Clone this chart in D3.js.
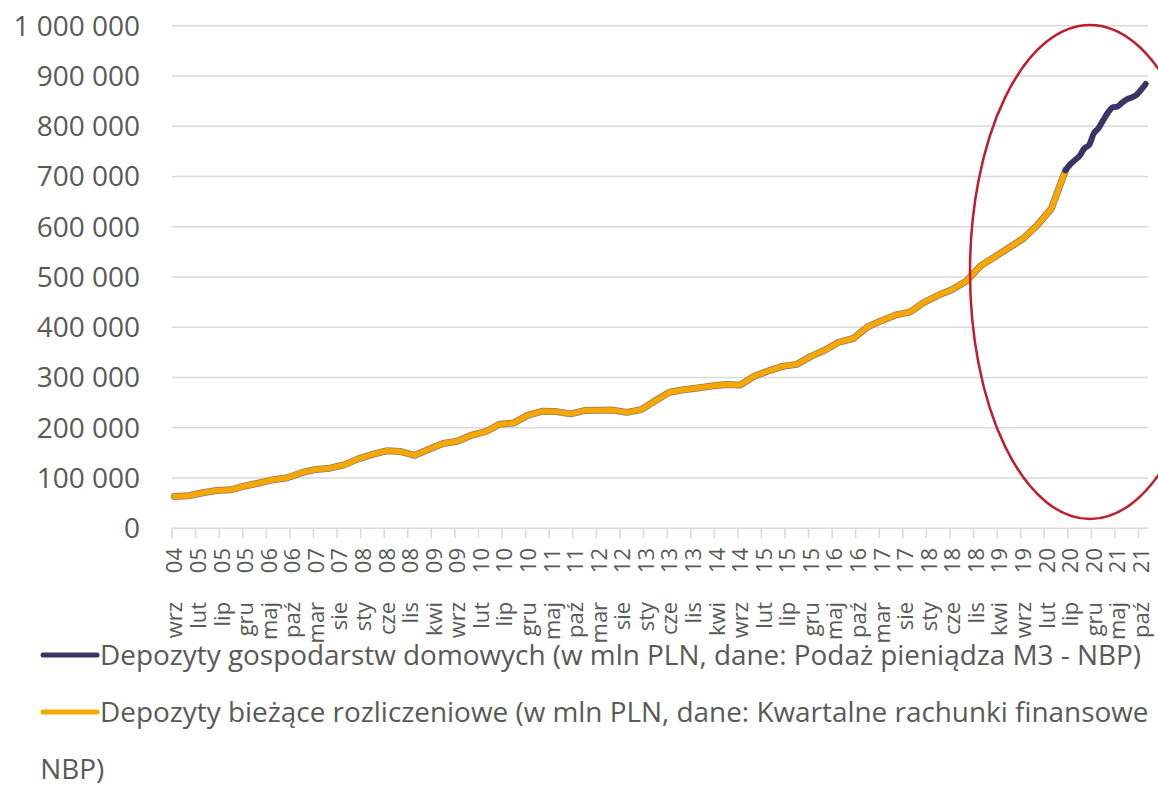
<!DOCTYPE html>
<html>
<head>
<meta charset="utf-8">
<script src="https://cdn.jsdelivr.net/npm/d3@7"></script>
<style>
  body { margin: 0; background: #fff; }
  text { font-family: "Open Sans", sans-serif; fill: #595959; }
</style>
</head>
<body>
<div id="chart"></div>
<script>
// Polish month abbreviations, categories run monthly from wrz 04 to lis 21
var monthNames = ["sty", "lut", "mar", "kwi", "maj", "cze", "lip", "sie", "wrz", "paź", "lis", "gru"];
var startYear = 2004, startMonth = 8, monthCount = 207;

var tickLabels = ["wrz 04", "lut 05", "lip 05", "gru 05", "maj 06", "paź 06", "mar 07", "sie 07",
  "sty 08", "cze 08", "lis 08", "kwi 09", "wrz 09", "lut 10", "lip 10", "gru 10", "maj 11", "paź 11",
  "mar 12", "sie 12", "sty 13", "cze 13", "lis 13", "kwi 14", "wrz 14", "lut 15", "lip 15", "gru 15",
  "maj 16", "paź 16", "mar 17", "sie 17", "sty 18", "cze 18", "lis 18", "kwi 19", "wrz 19", "lut 20",
  "lip 20", "gru 20", "maj 21", "paź 21"];

// quarterly current deposits, wrz 04 .. cze 20 (mln PLN)
var currentStart = "wrz 04";
var currentValues = [63000, 64500, 70500, 75000, 76500, 84000, 90000, 96500,
  100500, 110500, 117000, 119500, 126000, 138000, 147000, 154000,
  152500, 145000, 157000, 168500, 173000, 185000, 192000, 207000,
  209500, 225000, 232500, 232000, 227500, 234000, 234500, 235000,
  230500, 236000, 253500, 270500, 275500, 279000, 283000, 286000,
  285000, 302500, 313000, 322000, 326000, 342000, 354500, 370500,
  377500, 400500, 413000, 424500, 430000, 449500, 463500, 475000,
  492000, 522000, 540000, 558000, 576000, 603000, 636000, 712000];

// monthly household deposits (M3), cze 20 .. lis 21 (mln PLN)
var householdStart = "cze 20";
var householdValues = [712000, 724000, 732500, 741000, 756000, 762500, 785500, 796000, 812000,
  827000, 837500, 839000, 847000, 853500, 857000, 862000, 872000, 884000];

var yTicks = [0, 100000, 200000, 300000, 400000, 500000, 600000, 700000, 800000, 900000, 1000000];

var legendNames = ["Depozyty gospodarstw domowych (w mln PLN, dane: Podaż pieniądza M3 - NBP)",
  "Depozyty bieżące rozliczeniowe (w mln PLN, dane: Kwartalne rachunki finansowe", "NBP)"];

var navy = "#3b3466", orange = "#f7a800", grid = "#d9d9d9";

var categories = d3.range(monthCount).map(function(i) {
  var m = (startMonth + i) % 12;
  var y = startYear + Math.floor((startMonth + i) / 12);
  return monthNames[m] + " " + String(y % 100).padStart(2, "0");
});

var width = 1158, height = 790;
var svg = d3.select("#chart").append("svg")
  .attr("width", width)
  .attr("height", height);

var x = d3.scaleBand().domain(categories).range([172, 1148]);
var y = d3.scaleLinear().domain([0, 1000000]).range([528.2, 25.7]);
var cx = function(c) { return x(c) + x.bandwidth() / 2; };

var fmt = function(v) { return d3.format(",")(v).replace(/,/g, " "); };

// gridlines + y labels
svg.append("g").selectAll("line")
  .data(yTicks.slice(1))
  .enter().append("line")
  .attr("x1", 172).attr("x2", 1148)
  .attr("y1", function(d) { return y(d); })
  .attr("y2", function(d) { return y(d); })
  .attr("stroke", grid).attr("stroke-width", 1.5);

svg.append("g").selectAll("text")
  .data(yTicks)
  .enter().append("text")
  .attr("x", 140)
  .attr("y", function(d) { return y(d); })
  .attr("dy", "0.35em")
  .attr("text-anchor", "end")
  .style("font-size", "28px")
  .text(fmt);

// x axis line and ticks every 5 months
var xa = svg.append("g");
xa.append("line")
  .attr("x1", 172).attr("x2", 1148)
  .attr("y1", y(0)).attr("y2", y(0))
  .attr("stroke", grid).attr("stroke-width", 1.5);

xa.selectAll(".tick")
  .data(tickLabels)
  .enter().append("line")
  .attr("class", "tick")
  .attr("x1", function(d) { return x(d); })
  .attr("x2", function(d) { return x(d); })
  .attr("y1", y(0)).attr("y2", y(0) + 10)
  .attr("stroke", grid).attr("stroke-width", 1.5);

var lab = xa.selectAll(".lab")
  .data(tickLabels)
  .enter().append("text")
  .attr("class", "lab")
  .attr("text-anchor", "end")
  .attr("transform", function(d) { return "translate(" + (cx(d) + 8) + "," + 548 + ") rotate(-90)"; })
  .style("font-size", "22px");
lab.append("tspan").text(function(d) { return d.split(" ")[0] + " "; });
lab.append("tspan").attr("dx", 23).text(function(d) { return d.split(" ")[1]; });

// series
var i0 = categories.indexOf(currentStart);
var currentData = currentValues.map(function(v, i) { return { c: categories[i0 + 3 * i], v: v }; });
var h0 = categories.indexOf(householdStart);
var householdData = householdValues.map(function(v, i) { return { c: categories[h0 + i], v: v }; });

var line = d3.line()
  .x(function(d) { return cx(d.c); })
  .y(function(d) { return y(d.v); });

svg.append("path")
  .datum(currentData)
  .attr("d", line)
  .attr("fill", "none")
  .attr("stroke", "#8a7a6a")
  .attr("stroke-width", 7)
  .attr("stroke-linejoin", "round")
  .attr("stroke-linecap", "round");

svg.append("path")
  .datum(currentData)
  .attr("d", line)
  .attr("fill", "none")
  .attr("stroke", orange)
  .attr("stroke-width", 5.5)
  .attr("stroke-linejoin", "round")
  .attr("stroke-linecap", "round");

svg.append("path")
  .datum(householdData)
  .attr("d", line.curve(d3.curveCatmullRom))
  .attr("fill", "none")
  .attr("stroke", navy)
  .attr("stroke-width", 6)
  .attr("stroke-linejoin", "round")
  .attr("stroke-linecap", "round");

// red highlight ellipse
svg.append("ellipse")
  .attr("cx", 1090).attr("cy", 272)
  .attr("rx", 120).attr("ry", 247)
  .attr("fill", "none")
  .attr("stroke", "#be1e2d")
  .attr("stroke-width", 2.5);

// legend
var lg = svg.append("g");
lg.append("line")
  .attr("x1", 43).attr("x2", 97).attr("y1", 655).attr("y2", 655)
  .attr("stroke", navy).attr("stroke-width", 5).attr("stroke-linecap", "round");
lg.append("text").attr("x", 100).attr("y", 655).attr("dy", "0.35em")
  .style("font-size", "27.9px").text(legendNames[0]);

lg.append("line")
  .attr("x1", 43).attr("x2", 97).attr("y1", 712).attr("y2", 712)
  .attr("stroke", orange).attr("stroke-width", 5).attr("stroke-linecap", "round");
var t2 = lg.append("text").style("font-size", "27.9px");
t2.append("tspan").attr("x", 100).attr("y", 712).attr("dy", "0.35em").text(legendNames[1]);
t2.append("tspan").attr("x", 33).attr("y", 769).attr("dy", "0.35em").text(" " + legendNames[2]);
</script>
</body>
</html>
